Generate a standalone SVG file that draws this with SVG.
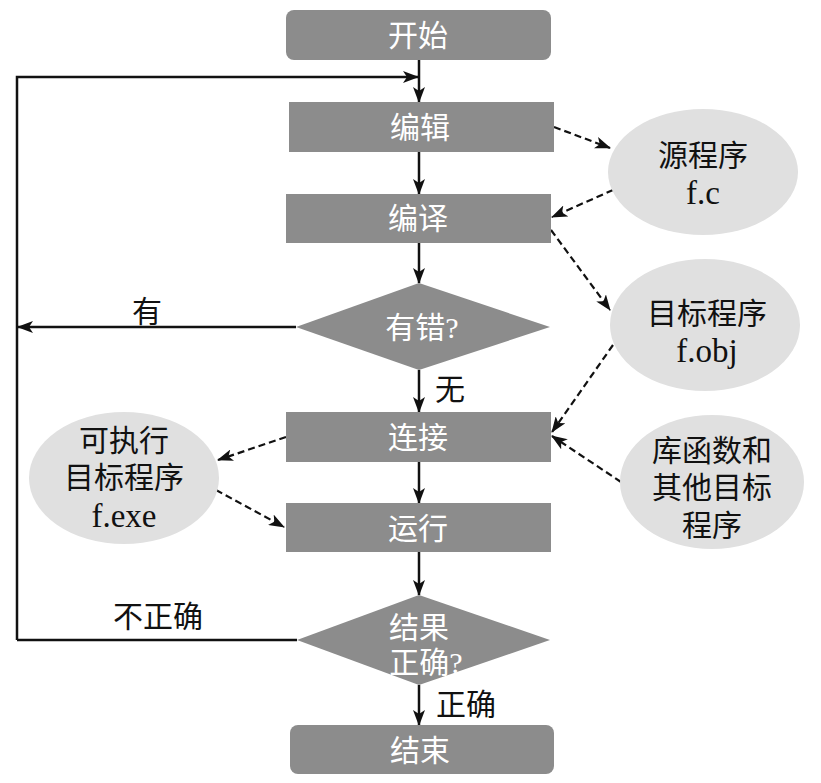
<svg xmlns="http://www.w3.org/2000/svg" width="821" height="783" viewBox="0 0 821 783">
<defs>
<marker id="ah" markerUnits="userSpaceOnUse" markerWidth="16" markerHeight="12" refX="15" refY="6" orient="auto">
<path d="M0,0 L16,6 L0,12 L4,6 Z" fill="#111"/>
</marker>
<style>
.box{fill:#8c8c8c}
.ell{fill:#e0e0e0}
.wt{fill:#fff;font-family:"Liberation Serif","Noto Sans CJK SC",serif;font-size:30px;text-anchor:middle}
.bt{fill:#111;font-family:"Liberation Serif","Noto Sans CJK SC",serif;font-size:30px;text-anchor:middle}
.lat{font-size:33px}
.solid{stroke:#111;stroke-width:2.5;fill:none}
.dash{stroke:#111;stroke-width:2.2;fill:none;stroke-dasharray:7,4}
</style>
</defs>
<rect width="821" height="783" fill="#fff"/>
<g id="connectors">
<line class="solid" x1="419" y1="60" x2="419" y2="102" marker-end="url(#ah)"/>
<polyline class="solid" points="17,640 17,77 418,77" marker-end="url(#ah)"/>
<line class="solid" x1="419" y1="152" x2="419" y2="194" marker-end="url(#ah)"/>
<line class="solid" x1="419" y1="243" x2="419" y2="283" marker-end="url(#ah)"/>
<line class="solid" x1="296" y1="327" x2="18" y2="327" marker-end="url(#ah)"/>
<line class="solid" x1="419" y1="370" x2="419" y2="412" marker-end="url(#ah)"/>
<line class="solid" x1="419" y1="462" x2="419" y2="503" marker-end="url(#ah)"/>
<line class="solid" x1="419" y1="552" x2="419" y2="595" marker-end="url(#ah)"/>
<line class="solid" x1="297" y1="640" x2="17" y2="640"/>
<line class="solid" x1="419" y1="685" x2="419" y2="725" marker-end="url(#ah)"/>
<line class="dash" x1="554" y1="127" x2="610" y2="148" marker-end="url(#ah)"/>
<line class="dash" x1="613" y1="190" x2="552" y2="217" marker-end="url(#ah)"/>
<line class="dash" x1="551" y1="230" x2="610" y2="310" marker-end="url(#ah)"/>
<line class="dash" x1="613" y1="345" x2="552" y2="432" marker-end="url(#ah)"/>
<line class="dash" x1="621" y1="482" x2="552" y2="436" marker-end="url(#ah)"/>
<line class="dash" x1="286" y1="437" x2="218" y2="460" marker-end="url(#ah)"/>
<line class="dash" x1="216" y1="490" x2="284" y2="527" marker-end="url(#ah)"/>
</g>
<g id="labels">
<text class="bt" x="147" y="322">有</text>
<text class="bt" x="450" y="400">无</text>
<text class="bt" x="158" y="627">不正确</text>
<text class="bt" x="466" y="715">正确</text>
</g>
<g id="start"><rect class="box" x="286" y="10" width="265" height="50" rx="8"/><text class="wt" x="418" y="46">开始</text></g>
<g id="edit"><rect class="box" x="289" y="102" width="265" height="50"/><text class="wt" x="420" y="138">编辑</text></g>
<g id="compile"><rect class="box" x="286" y="194" width="265" height="49"/><text class="wt" x="418" y="229">编译</text></g>
<g id="error"><polygon class="box" points="419,283 550,327 419,370 296,327"/><text class="wt" x="422" y="338">有错?</text></g>
<g id="link"><rect class="box" x="286" y="412" width="265" height="50"/><text class="wt" x="418" y="448">连接</text></g>
<g id="run"><rect class="box" x="286" y="503" width="265" height="49"/><text class="wt" x="418" y="539">运行</text></g>
<g id="check"><polygon class="box" points="419,595 550,640 419,685 297,640"/><text class="wt" x="419" y="638">结果</text><text class="wt" x="426" y="673">正确?</text></g>
<g id="end"><rect class="box" x="290" y="725" width="264" height="49" rx="8"/><text class="wt" x="420" y="761">结束</text></g>
<g id="src"><ellipse class="ell" cx="703" cy="172" rx="95" ry="63"/><text class="bt" x="703" y="166">源程序</text><text class="bt lat" x="703" y="204">f.c</text></g>
<g id="obj"><ellipse class="ell" cx="705" cy="325" rx="95" ry="66"/><text class="bt" x="707" y="324">目标程序</text><text class="bt lat" x="707" y="362">f.obj</text></g>
<g id="lib"><ellipse class="ell" cx="712" cy="482" rx="92" ry="67"/><text class="bt" x="712" y="461">库函数和</text><text class="bt" x="712" y="498">其他目标</text><text class="bt" x="712" y="536">程序</text></g>
<g id="exe"><ellipse class="ell" cx="124" cy="478" rx="95" ry="66"/><text class="bt" x="124" y="451">可执行</text><text class="bt" x="124" y="488">目标程序</text><text class="bt lat" x="124" y="527">f.exe</text></g>
</svg>
